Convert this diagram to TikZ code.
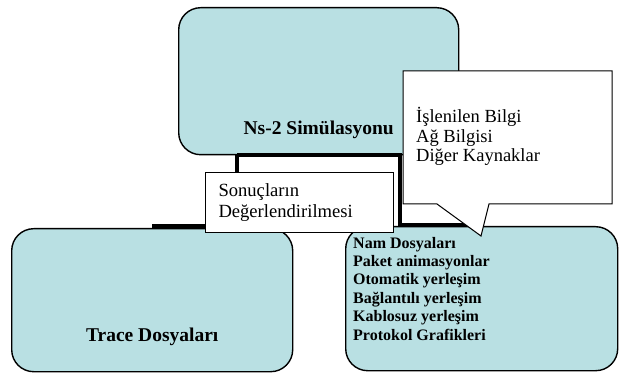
\documentclass[tikz,border=0pt]{standalone}
\usepackage{fontspec}
\setmainfont{Liberation Serif}
\definecolor{kutumavi}{RGB}{185,224,227}
\tikzset{
  kutu/.style={draw=black, line width=1.4pt, fill=kutumavi, rounded corners=22pt, inner sep=0pt},
  baglanti/.style={line width=4.5pt, draw=black},
  notkutu/.style={draw=black, line width=1pt, fill=white},
  kalin/.style={font=\bfseries\fontsize{19.5}{22}\selectfont},
}
\begin{document}
\begin{tikzpicture}[x=1pt,y=-1pt]
\useasboundingbox (0,0) rectangle (621,374);
% kutular
\node[kutu, anchor=north west, minimum width=280pt, minimum height=147pt] (sim) at (178,7) {};
\node[kutu, anchor=north west, minimum width=281pt, minimum height=143pt] (trace) at (11,228) {};
\node[kutu, anchor=north west, minimum width=272pt, minimum height=144pt] (nam) at (345,226) {};
% baglantilar
\coordinate (cikis) at (237,155);
\draw[baglanti] (cikis) |- ([yshift=2pt]trace.north);
\draw[baglanti] (cikis) -- ++(163,0) |- ([yshift=1pt]nam.north);
% notlar
\node[notkutu, anchor=north west, text width=162pt, minimum height=60pt, align=left, inner xsep=13pt, font=\fontsize{18.6}{21}\selectfont] (sonuc) at (205,172) {Sonuçların\\Değerlendirilmesi};
\coordinate (uc) at (481,236);
\draw[notkutu] (403,71) -- (612,71) -- (612,204) -- (489,204) -- (uc) -- (437,204) -- (403,204) -- cycle;
\node[anchor=base west, align=left, inner sep=0pt, font=\fontsize{18.5}{19.6}\selectfont] (bilgi) at (416,162) {İşlenilen Bilgi\\Ağ Bilgisi\\Diğer Kaynaklar};
% yazilar
\node[kalin, anchor=base, inner sep=0pt] (simyazi) at ([yshift=21pt]sim.south) {Ns-2 Simülasyonu};
\node[kalin, anchor=base, inner sep=0pt] (traceyazi) at ([yshift=31pt]trace.south) {Trace Dosyaları};
\node[anchor=base west, align=left, inner sep=0pt, font=\bfseries\fontsize{16}{18.4}\selectfont] (namyazi) at (353,340) {Nam Dosyaları\\Paket animasyonlar\\Otomatik yerleşim\\Bağlantılı yerleşim\\Kablosuz yerleşim\\Protokol Grafikleri};
\end{tikzpicture}
\end{document}
